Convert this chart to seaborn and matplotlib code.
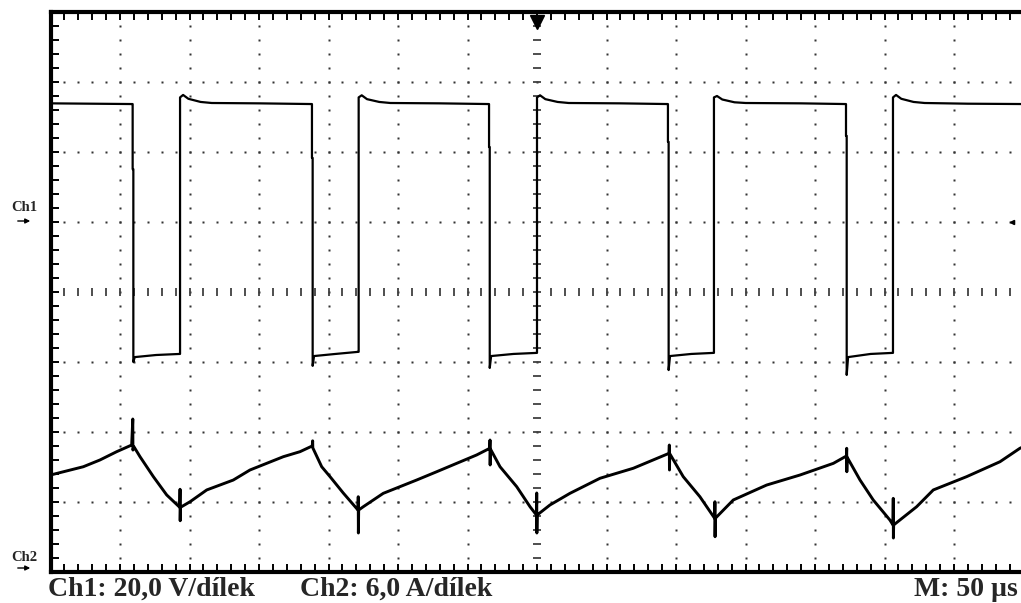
import numpy as np
import pandas as pd
import matplotlib
matplotlib.use("Agg")
import matplotlib.pyplot as plt
import seaborn as sns

# ---------------- data (time in microseconds) ----------------
# Ch1: voltage (V), 20 V/div
ch1_t = [0.0, 30.0, 58.8, 59.1, 59.1, 59.6, 59.6, 60.6, 76.0, 92.8, 93.2, 93.2, 95.4, 99.2, 108.0, 116.0, 150.0,
         187.8, 188.1, 188.1, 188.6, 188.6, 189.6, 205.0, 221.3, 221.7, 221.7, 223.9, 227.7, 236.5, 244.5, 280.0,
         315.2, 315.5, 315.5, 316.0, 316.0, 317.0, 333.0, 349.6, 350.0, 350.0, 352.2, 356.0, 364.8, 372.8, 410.0,
         443.9, 444.2, 444.2, 444.7, 444.7, 445.7, 461.0, 476.9, 477.3, 477.3, 479.5, 483.3, 492.1, 500.1, 540.0,
         572.0, 572.3, 572.3, 572.8, 572.8, 573.8, 590.0, 605.7, 606.1, 606.1, 608.3, 612.1, 620.9, 628.9, 660.0, 700.0]
ch1_v = [33.9, 33.8, 33.7, 33.7, 15.1, 15.1, -40.0, -38.6, -38.0, -37.7, -37.7, 35.6, 36.3, 35.2, 34.3, 34.0, 33.9,
         33.7, 33.7, 18.3, 18.3, -41.1, -38.3, -37.7, -37.1, -37.1, 35.6, 36.2, 35.1, 34.3, 34.0, 33.9,
         33.7, 33.7, 21.4, 21.4, -41.7, -38.3, -37.7, -37.4, -37.4, 35.6, 36.2, 35.1, 34.3, 34.0, 33.9,
         33.7, 33.7, 22.9, 22.9, -42.3, -38.3, -37.7, -37.4, -37.4, 35.6, 36.0, 35.0, 34.2, 34.0, 33.9,
         33.7, 33.7, 24.6, 24.6, -43.7, -38.6, -37.7, -37.4, -37.4, 35.6, 36.3, 35.2, 34.3, 34.0, 33.8, 33.7]

# Ch2: current (A), 6 A/div
ch2_t = [0.0, 23.6, 35.6, 47.6, 58.4, 59.2, 59.3, 60.0, 64.4, 74.0, 83.6, 93.0, 93.2, 93.3, 93.5,
         100.4, 112.4, 131.5, 143.5, 167.5, 179.5, 188.3, 188.6, 188.7, 195.1, 201.1, 210.6, 221.2, 221.4, 221.5, 221.7,
         225.0, 239.4, 251.4, 263.4, 277.8, 292.2, 306.6, 316.0, 316.2, 316.3, 316.5, 323.4, 335.4, 345.0, 349.6,
         349.8, 349.9, 350.1, 359.3, 373.7, 395.3, 419.3, 445.0, 445.2, 445.3, 445.5, 455.2, 467.2, 477.8, 478.0, 478.1,
         478.3, 491.2, 515.2, 539.2, 563.2, 572.6, 572.8, 572.9, 573.1, 582.4, 591.9, 603.9, 606.1, 606.3, 606.4, 606.6,
         623.1, 635.1, 659.1, 683.1, 697.4, 700.0]
ch2_a = [7.97, 8.68, 9.26, 9.97, 10.54, 12.77, 10.11, 10.40, 9.54, 7.83, 6.26, 5.20, 6.75, 4.05, 5.20,
         5.68, 6.69, 7.54, 8.40, 9.54, 9.97, 10.46, 10.90, 10.30, 8.68, 7.83, 6.43, 4.97, 6.11, 3.00, 4.97,
         5.25, 6.40, 6.97, 7.54, 8.25, 8.97, 9.69, 10.26, 10.97, 8.83, 10.20, 8.68, 6.97, 5.25, 4.54,
         6.43, 3.00, 4.54, 5.40, 6.40, 7.69, 8.55, 9.83, 10.54, 8.40, 9.80, 7.83, 6.11, 4.26, 5.68, 2.68,
         4.26, 5.83, 7.11, 7.97, 8.97, 9.60, 10.26, 8.25, 9.50, 7.54, 5.83, 4.11, 3.69, 5.97, 2.57, 3.69,
         5.25, 6.69, 7.83, 9.11, 10.26, 10.40]

bottom_labels = ["Ch1: 20,0 V/dílek", "Ch2: 6,0 A/dílek", "M: 50 µs"]
channel_labels = ["Ch1", "Ch2"]

# ---------------- scope settings ----------------
US_PER_DIV = 50.0
CH1_V_PER_DIV = 20.0
CH2_A_PER_DIV = 6.0
CH1_ZERO_DIV = 5.0
CH2_ZERO_DIV = 4.0 / 70.0
N_XDIV, N_YDIV = 14, 8

sns.set_theme(style="white")
plt.rcParams["font.family"] = ["Liberation Serif", "DejaVu Serif"]

W, H = 1021, 603
fig = plt.figure(figsize=(W / 100, H / 100), dpi=100)
ax = fig.add_axes([50.5 / W, 31 / H, 973 / W, 560 / H])
ax.set_xlim(0, N_XDIV)
ax.set_ylim(0, N_YDIV)

df1 = pd.DataFrame({"x": np.array(ch1_t) / US_PER_DIV,
                    "y": np.array(ch1_v) / CH1_V_PER_DIV + CH1_ZERO_DIV})
df2 = pd.DataFrame({"x": np.array(ch2_t) / US_PER_DIV,
                    "y": np.array(ch2_a) / CH2_A_PER_DIV + CH2_ZERO_DIV})

# graticule dots
sub = np.round(np.arange(0.2, N_XDIV, 0.2), 2)
suby = np.round(np.arange(0.2, N_YDIV, 0.2), 2)
for k in range(1, N_XDIV):
    if k == 7:
        continue
    ax.plot(np.full(len(suby), k), suby, ls="none", marker="s", ms=1.5, mec="none", color="0.2", zorder=1)
for j in range(1, N_YDIV):
    if j == 4:
        continue
    ax.plot(sub, np.full(len(sub), j), ls="none", marker="s", ms=1.5, mec="none", color="0.2", zorder=1)
# centre cross with small dashes
ax.plot(np.full(len(suby), 7), suby, ls="none", marker="_", ms=6, mew=1.3, color="0.25", zorder=1)
ax.plot(sub, np.full(len(sub), 4), ls="none", marker="|", ms=6, mew=1.3, color="0.25", zorder=1)

sns.lineplot(data=df2, x="x", y="y", sort=False, estimator=None, color="black", lw=2.1, ax=ax, zorder=3)
sns.lineplot(data=df1, x="x", y="y", sort=False, estimator=None, color="black", lw=1.6, ax=ax, zorder=3)

# trigger marker
ax.plot([7], [7.86], marker="v", ms=10, color="black", clip_on=False, zorder=4)
# Ch1 level marker on right
ax.plot([13.83], [CH1_ZERO_DIV], marker="<", ms=3, color="black", zorder=4)

# frame and ticks
for s in ["left", "top", "bottom"]:
    ax.spines[s].set_linewidth(3)
    ax.spines[s].set_color("black")
ax.spines["right"].set_visible(False)
ax.set_xticks(np.arange(0, N_XDIV + 0.01, 0.2))
ax.set_yticks(np.arange(0, N_YDIV + 0.01, 0.2))
ax.tick_params(axis="both", direction="in", length=6, width=1.4, color="black",
               top=True, bottom=True, left=True, right=False,
               labelbottom=False, labelleft=False, labeltop=False, labelright=False)
ax.set_xlabel("")
ax.set_ylabel("")
ax.grid(False)

# texts
fig.text(48 / W, 7 / H, bottom_labels[0], fontsize=20, weight="bold", va="baseline", ha="left")
fig.text(300 / W, 7 / H, bottom_labels[1], fontsize=20, weight="bold", va="baseline", ha="left")
fig.text(1018 / W, 7 / H, bottom_labels[2], fontsize=20, weight="bold", va="baseline", ha="right")

fig.text(11 / W, (H - 211) / H, channel_labels[0], fontsize=10.5, weight="bold", va="baseline", ha="left")
fig.text(11 / W, (H - 561) / H, channel_labels[1], fontsize=10.5, weight="bold", va="baseline", ha="left")
# level arrows drawn as annotations without text
for ypix in (221, 568):
    fig.add_artist(matplotlib.patches.FancyArrowPatch(
        (15, H - ypix), (33, H - ypix), transform=None, arrowstyle="-|>",
        mutation_scale=7, lw=1.0, color="black"))

fig.savefig("out.png", dpi=100, facecolor="white")
